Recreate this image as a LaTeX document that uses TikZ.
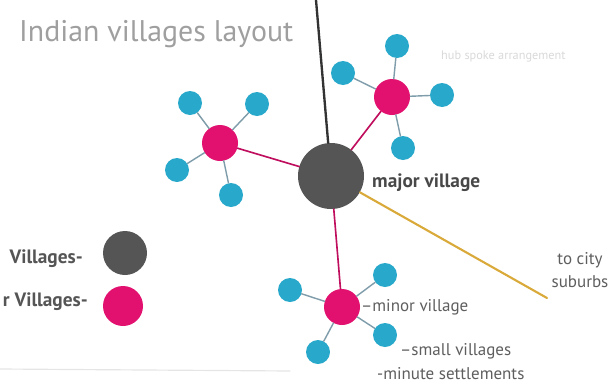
\documentclass[tikz,border=0pt]{standalone}
\usepackage{fontspec}
\setmainfont{PT Sans}
\definecolor{hubgray}{HTML}{555555}
\definecolor{hubpink}{HTML}{E2106F}
\definecolor{hubcyan}{HTML}{28A8CA}
\definecolor{roadgold}{HTML}{D9A939}
\definecolor{spokegray}{HTML}{7E9CAA}
\definecolor{textgray}{HTML}{5E5E5E}
\tikzset{
  majorv/.style={circle, fill=hubgray, minimum size=1.98cm, inner sep=0pt},
  minorv/.style={circle, fill=hubpink, minimum size=1.08cm, inner sep=0pt},
  smallv/.style={circle, fill=hubcyan, minimum size=0.72cm, inner sep=0pt},
  spoke/.style={spokegray, line width=1.2pt},
  link/.style={hubpink!85!black, line width=1.4pt},
  lbl/.style={text=textgray, font=\fontsize{14.5}{20}\selectfont, inner sep=0pt},
  boldlbl/.style={text=hubgray!85!black, font=\bfseries\fontsize{16.5}{18}\selectfont, inner sep=0pt},
}
\begin{document}
\begin{tikzpicture}[x=0.03cm, y=-0.03cm, line cap=round]
  \useasboundingbox (0,0) rectangle (612,388);
  \clip (0,0) rectangle (612,388);
  \node[anchor=west, text=gray!75, font=\fontsize{25.5}{27}\selectfont, inner sep=0pt] (title) at (19,34) {Indian villages layout};
  \node[anchor=west, text=gray!30, font=\fontsize{10.5}{12}\selectfont, inner sep=0pt] (note) at (441,56) {hub spoke arrangement};
  % villages
  \node[majorv] (major) at (331,176) {};
  \node[minorv] (minorL) at (220,143) {};
  \node[minorv] (minorR) at (392,97) {};
  \node[minorv] (minorB) at (342,307) {};
  \node[smallv] (L1) at (190,103) {};
  \node[smallv] (L2) at (257,104) {};
  \node[smallv] (L3) at (177,170) {};
  \node[smallv] (L4) at (231,195) {};
  \node[smallv] (R1) at (397,46) {};
  \node[smallv] (R2) at (343,73) {};
  \node[smallv] (R3) at (442,95) {};
  \node[smallv] (R4) at (403,148) {};
  \node[smallv] (B1) at (290,290) {};
  \node[smallv] (B2) at (385,275) {};
  \node[smallv] (B3) at (385,335) {};
  \node[smallv] (B4) at (318,352) {};
  \foreach \s in {L1,L2,L3,L4} \draw[spoke] (minorL) -- (\s);
  \foreach \s in {R1,R2,R3,R4} \draw[spoke] (minorR) -- (\s);
  \foreach \s in {B1,B2,B3,B4} \draw[spoke] (minorB) -- (\s);
  \foreach \m in {minorL,minorR,minorB} \draw[link] (major) -- (\m);
  % roads
  \coordinate (north) at (316,0);
  \coordinate (city) at (547,298);
  \draw[hubgray!60!black, line width=2pt] (north) -- (major);
  \draw[roadgold, line width=1.8pt] (major) -- (city);
  % labels
  \node[boldlbl, anchor=west] (majorlbl) at (372,183) {major village};
  \node[lbl, align=center] (citylbl) at (580,270) {to city\\suburbs};
  \node[lbl, anchor=west] (minorlbl) at (361,307) {--minor village};
  \node[lbl, anchor=west] (smalllbl) at (400,351) {--small villages};
  \node[lbl, anchor=west] (minutelbl) at (377,374) {-minute settlements};
  % legend
  \node[circle, fill=hubgray, minimum size=1.32cm, inner sep=0pt] (legmajor) at (125,253) {};
  \node[circle, fill=hubpink, minimum size=1.2cm, inner sep=0pt] (legminor) at (123,306) {};
  \node[boldlbl, anchor=east, text=hubgray] (legmajorlbl) at (83,259) {Villages-};
  \node[boldlbl, anchor=east, text=hubgray] (legminorlbl) at (88,302) {r Villages-};
  \draw[gray!20, line width=1pt] (0,369) -- (290,371);
\end{tikzpicture}
\end{document}
